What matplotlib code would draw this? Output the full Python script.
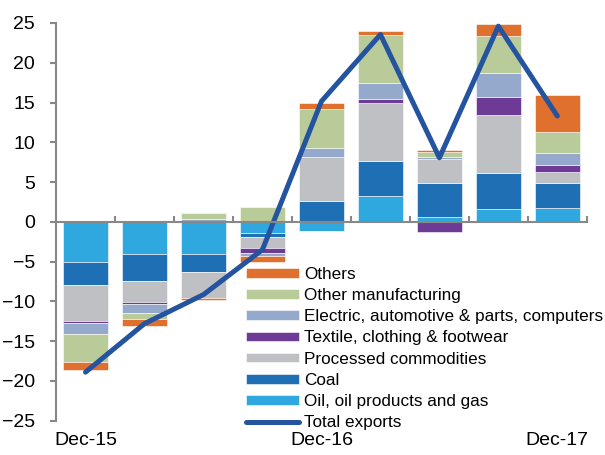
import numpy as np
import matplotlib.pyplot as plt

plt.rcParams['font.family'] = ['Liberation Sans', 'DejaVu Sans']

quarters = ['Dec-15', 'Mar-16', 'Jun-16', 'Sep-16', 'Dec-16',
            'Mar-17', 'Jun-17', 'Sep-17', 'Dec-17']
tick_labels = ['Dec-15', '', '', '', 'Dec-16', '', '', '', 'Dec-17']

oil = [-5.0, -4.1, -4.1, -1.4, -1.1, 3.2, 0.65, 1.6, 1.8]
coal = [-2.9, -3.4, -2.15, -0.55, 2.68, 4.45, 4.25, 4.6, 3.05]
processed = [-4.6, -2.6, -3.3, -1.35, 5.5, 7.25, 2.95, 7.2, 1.45]
textile = [-0.2, -0.25, 0.0, -0.6, -0.1, 0.6, -1.3, 2.35, 0.9]
electric = [-1.35, -1.1, 0.4, -0.4, 1.1, 1.95, 0.35, 2.95, 1.4]
other_manuf = [-3.55, -0.75, 0.7, 1.9, 4.95, 6.05, 0.55, 4.7, 2.7]
others = [-1.0, -0.85, -0.25, -0.8, 0.7, 0.5, 0.3, 1.5, 4.6]
total = [-18.9, -12.8, -9.15, -3.5, 15.15, 23.55, 8.05, 24.6, 13.3]

series = [
    ('Oil, oil products and gas', oil, '#2ea8de'),
    ('Coal', coal, '#1f6fb5'),
    ('Processed commodities', processed, '#bfc0c4'),
    ('Textile, clothing & footwear', textile, '#6d3a96'),
    ('Electric, automotive & parts, computers', electric, '#94a9cc'),
    ('Other manufacturing', other_manuf, '#b9cb98'),
    ('Others', others, '#e0702d'),
]

fig = plt.figure(figsize=(6.05, 4.55), dpi=100)
ax = fig.add_axes([0.0926, 0.0754, 0.8774, 0.8741])

x = np.arange(len(quarters))
pos_bottom = np.zeros(len(x))
neg_bottom = np.zeros(len(x))
bar_handles = []
for name, vals, col in series:
    v = np.array(vals)
    bottom = np.where(v >= 0, pos_bottom, neg_bottom)
    b = ax.bar(x, v, 0.76, bottom=bottom, color=col, label=name,
               edgecolor='white', linewidth=0.4)
    bar_handles.append(b)
    pos_bottom += np.where(v >= 0, v, 0)
    neg_bottom += np.where(v < 0, v, 0)

line, = ax.plot(x, total, color='#2453a0', lw=3.6, solid_capstyle='round',
                solid_joinstyle='round', label='Total exports')

ax.set_xlim(-0.5, 8.5)
ax.set_ylim(-25, 25)
ax.set_yticks(range(-25, 30, 5))

for s in ['top', 'right']:
    ax.spines[s].set_visible(False)
ax.spines['left'].set_color('#888888')
ax.spines['left'].set_linewidth(1.5)
ax.spines['bottom'].set_position(('data', 0))
ax.spines['bottom'].set_color('#888888')
ax.spines['bottom'].set_linewidth(1.5)
ax.set_xticks(np.arange(0.5, 9, 1))
ax.tick_params(axis='x', direction='in', length=4, width=1.5,
               color='#888888', labelbottom=False)
ax.tick_params(axis='y', direction='out', length=4, width=1.5,
               color='#888888', labelsize=14, pad=11)

sec = ax.secondary_xaxis('bottom')
sec.set_xticks(x)
sec.set_xticklabels(tick_labels)
sec.spines['bottom'].set_visible(False)
sec.tick_params(length=0, labelsize=14, pad=8)

leg_handles = bar_handles[::-1] + [line]
leg_labels = [s[0] for s in series[::-1]] + ['Total exports']
ax.legend(leg_handles, leg_labels,
          loc='upper left', bbox_to_anchor=(246 / 605, 1 - 267 / 455),
          bbox_transform=fig.transFigure, frameon=False,
          fontsize=12.3, borderpad=0, handlelength=3.1,
          handleheight=0.5, handletextpad=0.3, labelspacing=0.36,
          borderaxespad=0)

fig.savefig('out.png', dpi=100)
